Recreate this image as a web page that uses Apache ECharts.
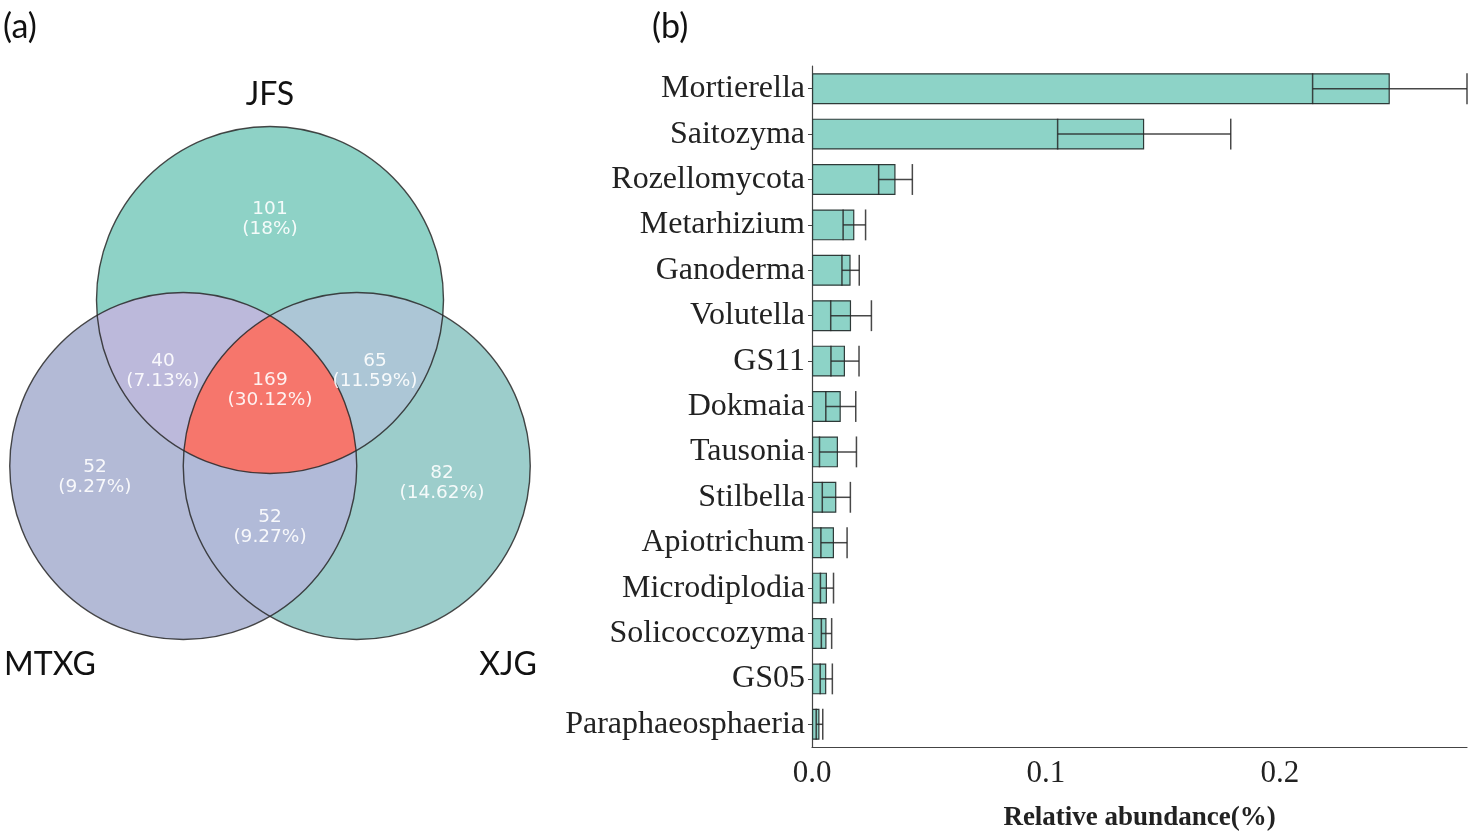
<!DOCTYPE html>
<html>
<head>
<meta charset="utf-8">
<script src="https://cdn.jsdelivr.net/npm/echarts@6/dist/echarts.min.js"></script>
<style>
html,body{margin:0;padding:0;background:#fff;}
#chart{width:1477px;height:837px;}
</style>
</head>
<body>
<div id="chart"></div>
<script>
// ---------- Data: panel (b) ----------
const genera = ['Mortierella','Saitozyma','Rozellomycota','Metarhizium','Ganoderma','Volutella','GS11','Dokmaia','Tausonia','Stilbella','Apiotrichum','Microdiplodia','Solicoccozyma','GS05','Paraphaeosphaeria'];
const abundance = [0.247,0.142,0.0357,0.0181,0.0165,0.0167,0.0141,0.0123,0.0111,0.0104,0.0094,0.0064,0.0062,0.0061,0.0032];
const abundanceErr = [0.033,0.037,0.0072,0.0048,0.0037,0.0087,0.0060,0.0064,0.0079,0.0060,0.0056,0.0028,0.0022,0.0026,0.0014];
const xTicks = [0.0, 0.1, 0.2];

// ---------- Data: panel (a) ----------
const vennSets = ['JFS','MTXG','XJG'];
const vennRegions = ['JFS','MTXG','XJG','JFS&MTXG','JFS&XJG','MTXG&XJG','JFS&MTXG&XJG'];
const vennCounts = [101,52,82,40,65,52,169];
const vennPercents = ['18%','9.27%','14.62%','7.13%','11.59%','9.27%','30.12%'];

// ---------- Layout / style (not data) ----------
const VC = [[0,0.957],[-0.5,0],[0.5,0]]; // circle centres in layout units
const VR = 1;
const regionColors = ['#8ed2c6','#b3bad6','#9ccdcb','#bcb9db','#acc6d6','#b1bad8','#f6766c'];
const regionLabelPos = [[0,1.424],[-1.009,-0.063],[0.991,-0.098],[-0.617,0.548],[0.605,0.548],[0,-0.352],[0,0.438]];
const setLabelPos = [[0,2.138],[-1.268,-1.147],[1.372,-1.147]];

function interPts(i,j){
  const [x1,y1]=VC[i],[x2,y2]=VC[j];
  const dx=x2-x1, dy=y2-y1, d=Math.hypot(dx,dy);
  const a=d/2, h=Math.sqrt(VR*VR-a*a);
  const mx=x1+a*dx/d, my=y1+a*dy/d;
  return [[mx-h*dy/d,my+h*dx/d],[mx+h*dy/d,my-h*dx/d]];
}
function inside(p,k){return Math.hypot(p[0]-VC[k][0],p[1]-VC[k][1])<VR;}
function arc(c,p1,p2,n){
  const [cx,cy]=VC[c];
  let a1=Math.atan2(p1[1]-cy,p1[0]-cx), a2=Math.atan2(p2[1]-cy,p2[0]-cx);
  let d=a2-a1; while(d>Math.PI)d-=2*Math.PI; while(d<=-Math.PI)d+=2*Math.PI;
  const pts=[];
  for(let s=0;s<=n;s++){const t=a1+d*s/n; pts.push([cx+VR*Math.cos(t),cy+VR*Math.sin(t)]);}
  return pts;
}
function innerPt(i,j,k){const p=interPts(i,j);return inside(p[0],k)?p[0]:p[1];}
function regionPolygon(idx){
  if(idx>=3 && idx<=5){
    const pairs=[[0,1],[0,2],[1,2]];
    const [i,j]=pairs[idx-3];
    const [p1,p2]=interPts(i,j);
    return arc(i,p1,p2,60).concat(arc(j,p2,p1,60));
  }
  const pab=innerPt(0,1,2), pac=innerPt(0,2,1), pbc=innerPt(1,2,0);
  return arc(0,pab,pac,40).concat(arc(2,pac,pbc,40)).concat(arc(1,pbc,pab,40));
}

const chart = echarts.init(document.getElementById('chart'));
const serif = '"Liberation Serif","Times New Roman",serif';
const sans = 'Lato,"Open Sans",sans-serif';

const option = {
  animation:false,
  backgroundColor:'#fff',
  graphic:[
    {type:'text',left:3,top:10,style:{text:'(a)',font:'34px '+sans,fill:'#111'}},
    {type:'text',left:652,top:10,style:{text:'(b)',font:'34px '+sans,fill:'#111'}}
  ],
  grid:[
    {left:812,right:10,top:66,height:682},
    {left:9.75,top:84.3,width:520.5,height:589.9}
  ],
  xAxis:[
    {gridIndex:0,type:'value',min:0,max:0.28,interval:0.1,
     axisLine:{show:true,lineStyle:{color:'#444',width:1.2}},
     axisTick:{show:false},
     splitLine:{show:false},
     axisLabel:{fontFamily:serif,fontSize:31,color:'#222',margin:11,
       formatter:v=>{const t=xTicks.find(x=>Math.abs(x-v)<1e-9);return t===undefined?'':t.toFixed(1);}},
     name:'Relative abundance(%)',nameLocation:'middle',nameGap:58,
     nameTextStyle:{fontFamily:serif,fontSize:27,fontWeight:'bold',color:'#222'}},
    {gridIndex:1,type:'value',min:-1.5,max:1.5,show:false}
  ],
  yAxis:[
    {gridIndex:0,type:'category',data:genera,inverse:true,
     axisLine:{show:true,lineStyle:{color:'#444',width:1.2}},
     axisTick:{show:true,alignWithLabel:true,length:4,lineStyle:{color:'#444'}},
     axisLabel:{fontFamily:serif,fontSize:32,color:'#222',margin:7,padding:[4,0,0,0]}},
    {gridIndex:1,type:'value',min:-1.2,max:2.2,show:false}
  ],
  series:[
    {type:'bar',xAxisIndex:0,yAxisIndex:0,data:abundance,barWidth:'68%',
     itemStyle:{color:'#8dd3c7',borderColor:'#2e3a38',borderWidth:1.2},z:2},
    {type:'custom',xAxisIndex:0,yAxisIndex:0,z:3,
     data:abundance.map((v,i)=>[v,i,abundanceErr[i]]),
     renderItem:function(params,api){
       const v=api.value(0), y=api.value(1), e=api.value(2);
       const lo=api.coord([Math.max(v-e,0),y]), hi=api.coord([v+e,y]);
       const hh=api.size([0,1])[1]*0.68/2;
       const st={stroke:'rgba(40,40,40,0.85)',lineWidth:1.5};
       return {type:'group',children:[
         {type:'line',shape:{x1:lo[0],y1:lo[1],x2:hi[0],y2:hi[1]},style:st},
         {type:'line',shape:{x1:lo[0],y1:lo[1]-hh,x2:lo[0],y2:lo[1]+hh},style:st},
         {type:'line',shape:{x1:hi[0],y1:hi[1]-hh,x2:hi[0],y2:hi[1]+hh},style:st}
       ]};
     }},
    // Venn fills
    {type:'custom',xAxisIndex:1,yAxisIndex:1,z:2,silent:true,
     data:vennRegions.map((r,i)=>[i]),
     renderItem:function(params,api){
       const idx=params.dataIndex;
       if(idx<3){
         const c=api.coord(VC[idx]);
         const r=api.size([VR,0])[0];
         return {type:'circle',shape:{cx:c[0],cy:c[1],r:r},style:{fill:regionColors[idx]}};
       }
       const pts=regionPolygon(idx).map(p=>api.coord(p));
       return {type:'polygon',shape:{points:pts},style:{fill:regionColors[idx]}};
     }},
    // Venn outlines
    {type:'custom',xAxisIndex:1,yAxisIndex:1,z:3,silent:true,
     data:vennSets.map((s,i)=>[i]),
     renderItem:function(params,api){
       const c=api.coord(VC[params.dataIndex]);
       const r=api.size([VR,0])[0];
       return {type:'circle',shape:{cx:c[0],cy:c[1],r:r},style:{fill:'none',stroke:'rgba(40,40,40,0.85)',lineWidth:1.4}};
     }},
    // Venn region labels
    {type:'custom',xAxisIndex:1,yAxisIndex:1,z:4,silent:true,
     data:vennRegions.map((r,i)=>[i]),
     renderItem:function(params,api){
       const i=params.dataIndex;
       const p=api.coord(regionLabelPos[i]);
       return {type:'text',style:{text:vennCounts[i]+'\n('+vennPercents[i]+')',x:p[0],y:p[1],
         align:'center',verticalAlign:'middle',fill:'rgba(255,255,255,0.9)',
         fontFamily:'"DejaVu Sans",sans-serif',fontSize:18.5,lineHeight:20}};
     }},
    // Set labels
    {type:'custom',xAxisIndex:1,yAxisIndex:1,z:4,silent:true,
     data:vennSets.map((s,i)=>[i]),
     renderItem:function(params,api){
       const i=params.dataIndex;
       const p=api.coord(setLabelPos[i]);
       return {type:'text',style:{text:vennSets[i],x:p[0],y:p[1],align:'center',verticalAlign:'middle',
         fill:'#111',fontFamily:sans,fontSize:32}};
     }}
  ]
};
chart.setOption(option);
</script>
</body>
</html>
